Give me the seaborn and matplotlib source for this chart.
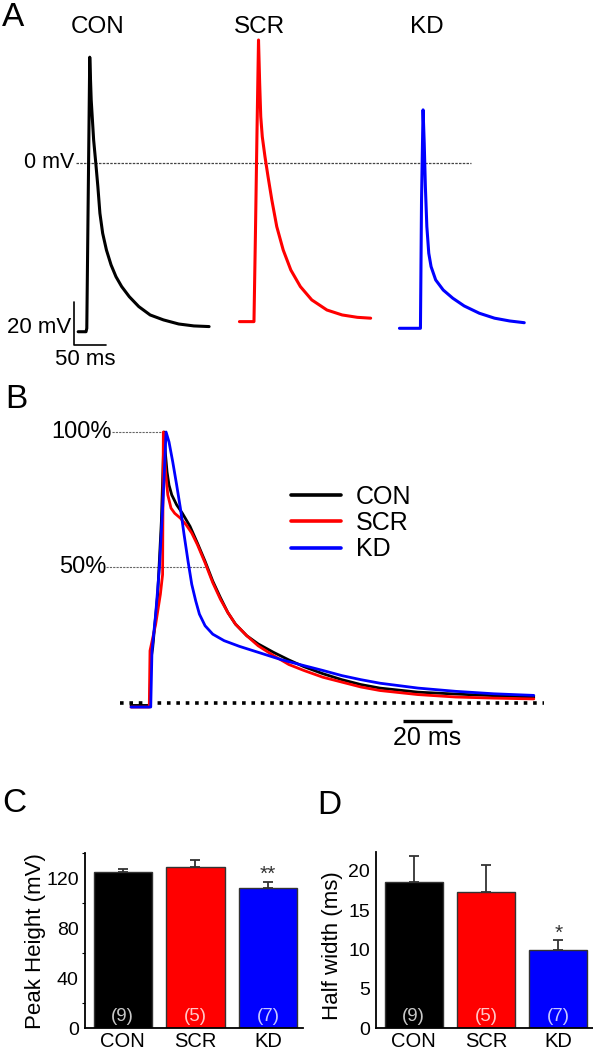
#!/usr/bin/env python3
"""
Action potential figure: raw traces (A), normalised overlay (B),
peak height (C) and half width (D) bar charts.
"""

import numpy as np
import pandas as pd
import matplotlib
matplotlib.use('Agg')
import matplotlib.pyplot as plt
import seaborn as sns

groups = ['CON', 'SCR', 'KD']
colors = {'CON': '#000000', 'SCR': '#ff0000', 'KD': '#0000ff'}
n_colors = {'CON': '#c8c8c8', 'SCR': '#ffc8c8', 'KD': '#c8c8ff'}

# --- panel A: example APs (ms from trace start, mV) ---
con_a_t = [0, 12.3, 13.5, 18.1, 20.4, 24.2, 27.6, 30.8, 34.0, 38.3, 44.2, 51.4, 59.1, 68.0,
           79.9, 94.7, 112.5, 133.3, 157.1, 180.8, 204.6]
con_a_v = [-78.5, -78.5, -76.9, 49.2, 29.3, 10.7, -0.2, -11.0, -23.4, -32.7, -40.5, -47.4,
           -52.9, -57.5, -62.2, -66.8, -70.7, -73.0, -74.9, -75.8, -76.1]
scr_a_t = [0, 22.7, 25.0, 27.4, 29.8, 31.6, 33.3, 35.7, 39.9, 44.7, 50.6, 58.3, 68.4, 80.3,
           95.2, 113, 136.7, 160.5, 184.2, 205]
scr_a_v = [-73.8, -73.8, -32.7, 13.8, 57.2, 37.1, 21.5, 12.2, 2.9, -6.4, -17.2, -29.6, -40.5,
           -49.8, -57.5, -63.7, -68.4, -70.7, -71.8, -72.2]
kd_a_t = [0, 32.8, 34.5, 36.9, 38.7, 40.5, 42.8, 45.8, 49.4, 56.6, 68.4, 83.3, 101.1, 124.8,
          148.6, 172.3, 195]
kd_a_v = [-76.9, -76.9, -17.2, 24.7, 9.2, -11.0, -29.6, -42.0, -48.2, -54.4, -59.1, -62.9,
          -66.5, -69.9, -72.2, -73.5, -74.3]

# --- panel B: peak-normalised APs (ms, % of peak) ---
con_b_t = [-7.7, 0, 0.3, 1.1, 3.1, 4.6, 5.7, 6.3, 6.9, 7.7, 8.8, 10.8, 13.1, 16.2, 19.2, 22.3,
           25.4, 28.5, 31.5, 34.6, 39.2, 43.8, 50, 56.2, 62.3, 70, 77.7, 85.4, 93.1, 108.5,
           123.8, 139.2, 155.4]
con_b_v = [-0.9, -0.9, 15.6, 20.5, 40.1, 67, 100, 91.4, 85.3, 80.4, 76.8, 73.1, 70.0, 65.2,
           59.0, 52.3, 45.0, 38.9, 33.4, 29.1, 24.8, 21.8, 18.7, 15.9, 13.4, 10.8, 8.6, 6.8,
           5.5, 4.0, 3.3, 2.7, 2.2]
scr_b_t = [-7.7, -0.3, 0, 2.3, 4.2, 5.1, 5.4, 6.3, 7.2, 8.5, 10, 12.3, 14.6, 16.9, 19.2, 22.3,
           25.4, 28.5, 31.5, 34.6, 39.2, 43.8, 50, 56.2, 62.3, 70, 77.7, 85.4, 93.1, 108.5,
           123.8, 139.2, 155.4]
scr_b_v = [-1.5, -1.5, 19.3, 29.1, 40.1, 47.4, 100, 85.3, 76.8, 71.9, 70.0, 68.2, 65.8, 62.7,
           58.4, 51.7, 44.4, 38.3, 33.4, 29.1, 24.8, 21.1, 17.5, 14.2, 12.0, 9.5, 7.7, 5.9,
           4.6, 3.1, 2.2, 1.8, 1.5]
kd_b_t = [-7.7, 0.3, 0.8, 2.3, 3.8, 5.4, 6.5, 7.7, 9.2, 10.8, 12.3, 13.8, 15.4, 16.9, 18.5,
          20, 22.3, 25.4, 30, 36.2, 43.8, 53.1, 62.3, 70, 77.7, 85.4, 93.1, 108.5, 123.8,
          139.2, 155.4]
kd_b_v = [-1.5, -1.5, 19.3, 32.8, 49.9, 76.8, 100, 96.3, 89.0, 80.4, 71.9, 62.1, 52.3, 43.8,
          37.7, 32.8, 28.5, 25.4, 23.0, 20.9, 18.7, 16.0, 13.8, 12.0, 10.1, 8.6, 7.3, 5.5,
          4.3, 3.4, 2.8]

# --- panels C and D: summary (mean, SEM, n) ---
peak_mean = [125, 129, 112.6]
peak_sem = [2.8, 5.4, 4.8]
half_mean = [18.6, 17.3, 9.95]
half_sem = [3.3, 3.4, 1.25]
n_cells = [9, 5, 7]

# layout
W, H = 593, 1050
trace_offset_ms = {'CON': -6, 'SCR': 246, 'KD': 496}


def rect(l, t, r, b):
    """pixel box (from top-left) -> figure fraction"""
    return [l / W, 1 - b / H, (r - l) / W, (b - t) / H]


sns.set_style('white')
plt.rcParams['font.family'] = ['Liberation Sans', 'DejaVu Sans']
for k in ['text.color', 'axes.labelcolor', 'xtick.color', 'ytick.color', 'axes.edgecolor']:
    plt.rcParams[k] = 'black'

fig = plt.figure(figsize=(W / 100, H / 100), dpi=100)

# ---------------- A ----------------
axA = fig.add_axes(rect(0, 0, 593, 370))
rows = []
for g, t, v in [('CON', con_a_t, con_a_v), ('SCR', scr_a_t, scr_a_v), ('KD', kd_a_t, kd_a_v)]:
    for ti, vi in zip(t, v):
        rows.append({'trace': g, 't': ti + trace_offset_ms[g], 'v': vi})
df_a = pd.DataFrame(rows)
sns.lineplot(data=df_a, x='t', y='v', hue='trace', hue_order=groups, palette=colors,
             sort=False, estimator=None, legend=False, linewidth=2.2, ax=axA)
axA.set_xlim(-128.1, 798.4)
axA.set_ylim(-96.3, 75.8)
axA.axis('off')
axA.plot([-9.4, 608], [0, 0], color='#444444', lw=0.9, ls=(0, (2, 1)), zorder=0)
axA.text(-12.5, 0, '0 mV', ha='right', va='center', fontsize=15.5)
# scale bar
axA.plot([-12.5, -12.5, 37.5], [-64.7, -84.7, -84.7], color='black', lw=1.2)
axA.text(-17, -76.3, '20 mV', ha='right', va='center', fontsize=16)
axA.text(5, -91.5, '50 ms', ha='center', va='center', fontsize=16)
for g, x in zip(groups, [24.2, 278, 538]):
    axA.text(x, 63.4, g, ha='center', va='center', fontsize=17.5)

# ---------------- B ----------------
axB = fig.add_axes(rect(0, 375, 593, 775))
rows = []
for g, t, v in [('CON', con_b_t, con_b_v), ('SCR', scr_b_t, scr_b_v), ('KD', kd_b_t, kd_b_v)]:
    for ti, vi in zip(t, v):
        rows.append({'trace': g, 't': ti, 'v': vi})
df_b = pd.DataFrame(rows)
sns.lineplot(data=df_b, x='t', y='v', hue='trace', hue_order=groups, palette=colors,
             sort=False, estimator=None, linewidth=2.0, ax=axB)
axB.set_xlim(-60.73, 179.35)
axB.set_ylim(-26.57, 121.03)
axB.axis('off')
axB.plot([-12.1, 159.5], [0, 0], color='black', lw=2.6, ls=(0, (1, 1.6)), zorder=0)
axB.plot([-15.4, 5.3], [100, 100], color='#666666', lw=0.8, ls=(0, (2, 1)), zorder=0)
axB.plot([-17.8, 22.3], [50, 50], color='#666666', lw=0.8, ls=(0, (2, 1)), zorder=0)
axB.text(-15.4, 100, '100%', ha='right', va='center', fontsize=17)
axB.text(-17.8, 50, '50%', ha='right', va='center', fontsize=17)
axB.plot([102.4, 122.4], [-6.6, -6.6], color='black', lw=2.4, solid_capstyle='butt')
axB.text(112.3, -12.8, '20 ms', ha='center', va='center', fontsize=18)
handles, labels = axB.get_legend_handles_labels()
leg = axB.legend(handles, labels, loc='center left',
                 bbox_to_anchor=(291 / W, 1 - 523 / H), bbox_transform=fig.transFigure,
                 frameon=False, fontsize=18, handlelength=2.0, handletextpad=0.6,
                 borderpad=0, borderaxespad=0, labelspacing=0.1)
for line in leg.get_lines():
    line.set_linewidth(2.6)

# ---------------- C & D ----------------
df_bar = pd.DataFrame({'group': groups, 'peak': peak_mean, 'half': half_mean})


def bar_panel(ax, col, mean, sem, ylim, ticks, minor, ylabel, n_y, star, star_y, label_x, label_y):
    sns.barplot(data=df_bar, x='group', y=col, hue='group', order=groups, hue_order=groups,
                palette=colors, saturation=1, width=0.8, edgecolor='#333333', linewidth=1,
                errorbar=None, legend=False, ax=ax)
    ax.errorbar(range(3), mean, yerr=[np.zeros(3), sem], fmt='none', ecolor='#333333',
                elinewidth=1.3, capsize=3.5, capthick=1.3, zorder=0.5)
    ax.set_xlim(-0.52, 2.48)
    ax.set_ylim(*ylim)
    ax.set_yticks(ticks)
    if minor:
        ax.set_yticks(minor, minor=True)
    sns.despine(ax=ax)
    for s in ['left', 'bottom']:
        ax.spines[s].set_linewidth(1.3)
    ax.tick_params(axis='y', which='major', direction='out', length=3.5, width=1, pad=1, labelsize=14)
    ax.tick_params(axis='y', which='minor', direction='out', length=2, width=0.8, left=True)
    ax.tick_params(axis='x', length=0, pad=3, labelsize=14.5)
    ax.set_xlabel('')
    ax.set_ylabel(ylabel, fontsize=16)
    ax.yaxis.set_label_coords(label_x, label_y)
    for i, g in enumerate(groups):
        ax.text(i, n_y, f'({n_cells[i]})', ha='center', va='center', fontsize=13.5, color=n_colors[g])
    ax.text(2, star_y, star, ha='center', va='center', fontsize=15, color='#333333')


axC = fig.add_axes(rect(85, 853.3, 303, 1028.3))
bar_panel(axC, 'peak', peak_mean, peak_sem, (0, 140), [0, 40, 80, 120], [20, 60, 100, 140],
          'Peak Height (mV)', 9.3, '**', 123.5, -0.18, 0.5)

axD = fig.add_axes(rect(376, 851.7, 593, 1028.3))
bar_panel(axD, 'half', half_mean, half_sem, (0, 22.4), [0, 5, 10, 15, 20], None,
          'Half width (ms)', 1.47, '*', 12.1, -0.151, 0.47)

# panel letters
for letter, x, y in [('A', 2, 17), ('B', 5, 400), ('C', 2, 803), ('D', 317, 805)]:
    fig.text(x / W, 1 - y / H, letter, ha='left', va='center', fontsize=24)

plt.savefig('out.png', dpi=100)
